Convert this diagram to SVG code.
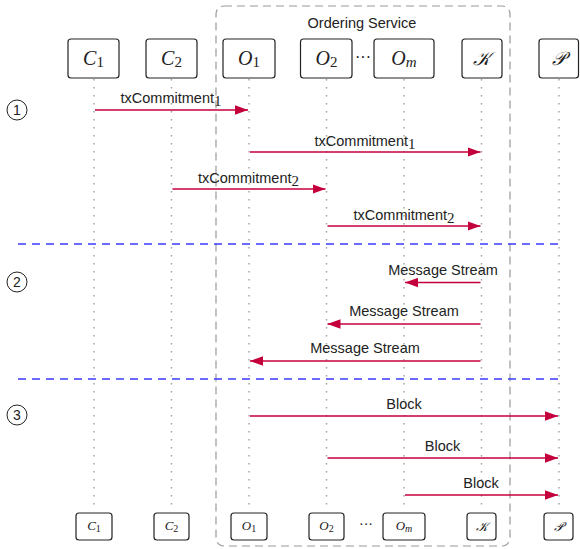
<svg xmlns="http://www.w3.org/2000/svg" width="580" height="549" viewBox="0 0 580 549">
<style>
.node rect{fill:#fff;stroke:#222;stroke-width:1.2}
.lbl{font-family:"Liberation Sans",Arial,sans-serif;font-size:14.5px;fill:#222;text-anchor:middle}
.sub{font-family:"Liberation Serif","DejaVu Serif",serif;font-size:15px}
.math{font-family:"Liberation Serif","DejaVu Serif",serif;font-style:italic;fill:#222;text-anchor:middle}
.big{font-size:20px}
.up{font-style:normal}
.life{stroke:#a6a6a6;stroke-width:1.5;stroke-dasharray:1.5 6.5;fill:none}
.msg{stroke:#c4003c;stroke-width:1.3;fill:none;marker-end:url(#ah)}
.sep{stroke:#3a3aff;stroke-width:1.3;stroke-dasharray:8 6}
.step circle{fill:#fff;stroke:#222;stroke-width:1}
.step text{font-family:"Liberation Sans",Arial,sans-serif;font-size:14px;fill:#222;text-anchor:middle}
.dots{font-family:"Liberation Serif",serif;fill:#222;text-anchor:middle}
</style>
<defs>
<marker id="ah" markerUnits="userSpaceOnUse" markerWidth="13" markerHeight="10" refX="13" refY="5" orient="auto">
<path d="M0,0.3 L13,5 L0,9.7 z" fill="#c4003c"/>
</marker>
</defs>
<rect width="580" height="549" fill="#fff"/>
<g id="ordering-service">
<rect x="216" y="6" width="294" height="540" rx="8" fill="none" stroke="#999" stroke-width="1.2" stroke-dasharray="8 5"/>
<text class="lbl" x="362" y="28">Ordering Service</text>
</g>
<g id="lifelines">
<line class="life" x1="94" y1="79" x2="94" y2="511"/>
<line class="life" x1="171.5" y1="79" x2="171.5" y2="511"/>
<line class="life" x1="249" y1="79" x2="249" y2="511"/>
<line class="life" x1="326.5" y1="79" x2="326.5" y2="511"/>
<line class="life" x1="404" y1="79" x2="404" y2="511"/>
<line class="life" x1="481.5" y1="79" x2="481.5" y2="511"/>
<line class="life" x1="559" y1="79" x2="559" y2="511"/>
</g>
<g id="separators">
<line class="sep" x1="18" y1="244" x2="558" y2="244"/>
<line class="sep" x1="18" y1="379" x2="558" y2="379"/>
</g>
<g id="steps" class="step">
<circle cx="17" cy="110" r="10"/><text x="17" y="115">1</text>
<circle cx="17" cy="282" r="10"/><text x="17" y="287">2</text>
<circle cx="17" cy="415" r="10"/><text x="17" y="420">3</text>
</g>
<g id="C1" class="node">
<rect x="68" y="39" width="51" height="39" rx="3"/>
<text class="math big" x="93.5" y="65">C<tspan class="up" font-size="15" dy="2">1</tspan></text>
<rect x="76" y="513" width="36" height="27" rx="3"/>
<text class="math" font-size="13" x="94" y="530">C<tspan class="up" font-size="10" dy="1.5">1</tspan></text>
</g>
<g id="C2" class="node">
<rect x="146" y="39" width="51" height="39" rx="3"/>
<text class="math big" x="171.5" y="65">C<tspan class="up" font-size="15" dy="2">2</tspan></text>
<rect x="154" y="513" width="35" height="27" rx="3"/>
<text class="math" font-size="13" x="171.5" y="530">C<tspan class="up" font-size="10" dy="1.5">2</tspan></text>
</g>
<g id="O1" class="node">
<rect x="223" y="39" width="52" height="39" rx="3"/>
<text class="math big" x="249" y="65">O<tspan class="up" font-size="15" dy="2">1</tspan></text>
<rect x="231" y="513" width="36" height="27" rx="3"/>
<text class="math" font-size="13" x="249" y="530">O<tspan class="up" font-size="10" dy="1.5">1</tspan></text>
</g>
<g id="O2" class="node">
<rect x="300.5" y="39" width="51.5" height="39" rx="3"/>
<text class="math big" x="326.5" y="65">O<tspan class="up" font-size="15" dy="2">2</tspan></text>
<rect x="309" y="513" width="35" height="27" rx="3"/>
<text class="math" font-size="13" x="326.5" y="530">O<tspan class="up" font-size="10" dy="1.5">2</tspan></text>
</g>
<g id="dots">
<text class="dots" font-size="16" x="363" y="63">···</text>
<text class="dots" font-size="14" x="366" y="529">···</text>
</g>
<g id="Om" class="node">
<rect x="374" y="39" width="60" height="39" rx="3"/>
<text class="math big" x="404" y="65">O<tspan font-size="15" dy="2">m</tspan></text>
<rect x="383" y="513" width="42" height="27" rx="3"/>
<text class="math" font-size="13" x="404" y="530">O<tspan font-size="10" dy="1.5">m</tspan></text>
</g>
<g id="K" class="node">
<rect x="462" y="39" width="40" height="39" rx="3"/>
<text class="math" font-size="19" x="482" y="65">𝒦</text>
<rect x="467" y="513" width="29" height="27" rx="3"/>
<text class="math" font-size="13" x="481.5" y="531">𝒦</text>
</g>
<g id="P" class="node">
<rect x="539" y="39" width="39.5" height="39" rx="3"/>
<text class="math" font-size="19" x="559" y="65">𝒫</text>
<rect x="544" y="513" width="29" height="27" rx="3"/>
<text class="math" font-size="13" x="558.5" y="531">𝒫</text>
</g>
<g id="connectors">
<line class="msg" x1="95" y1="110" x2="248" y2="110"/>
<text class="lbl" x="171" y="103">txCommitment<tspan class="sub" dy="3">1</tspan></text>
<line class="msg" x1="250" y1="152" x2="480.5" y2="152"/>
<text class="lbl" x="365" y="145.5">txCommitment<tspan class="sub" dy="3">1</tspan></text>
<line class="msg" x1="172.5" y1="189" x2="325.5" y2="189"/>
<text class="lbl" x="248.5" y="182.5">txCommitment<tspan class="sub" dy="3">2</tspan></text>
<line class="msg" x1="327.5" y1="226" x2="480.5" y2="226"/>
<text class="lbl" x="404" y="219.5">txCommitment<tspan class="sub" dy="3">2</tspan></text>
<line class="msg" x1="480.5" y1="282.5" x2="405" y2="282.5"/>
<text class="lbl" x="443" y="274.5">Message Stream</text>
<line class="msg" x1="480.5" y1="324" x2="327.5" y2="324"/>
<text class="lbl" x="404" y="316">Message Stream</text>
<line class="msg" x1="480.5" y1="361" x2="250" y2="361"/>
<text class="lbl" x="365" y="353">Message Stream</text>
<line class="msg" x1="250" y1="416" x2="558" y2="416"/>
<text class="lbl" x="404" y="409">Block</text>
<line class="msg" x1="327.5" y1="458" x2="558" y2="458"/>
<text class="lbl" x="442.5" y="451">Block</text>
<line class="msg" x1="405" y1="495" x2="558" y2="495"/>
<text class="lbl" x="481" y="488">Block</text>
</g>
</svg>
